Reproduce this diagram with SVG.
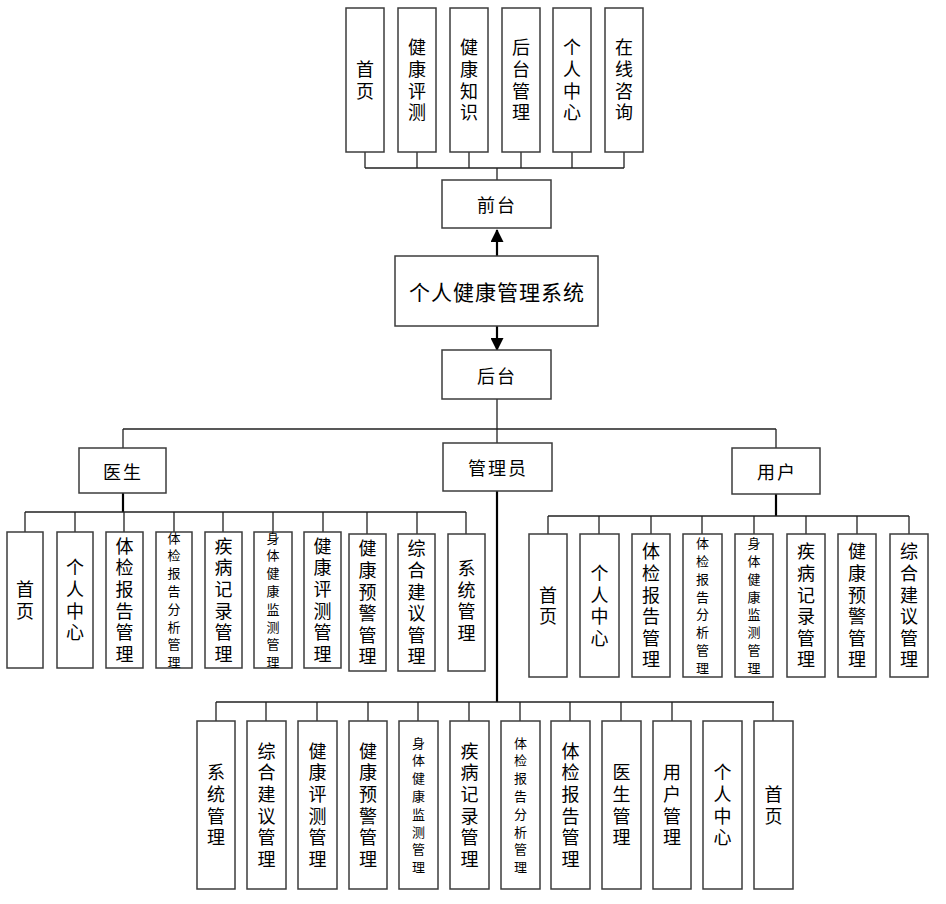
<svg xmlns="http://www.w3.org/2000/svg" width="946" height="904" viewBox="0 0 946 904">
<defs>
<style>
.b{fill:#fff;stroke:#3c3c3c;stroke-width:1.5}
.t{font-family:"Noto Sans CJK SC","Noto Sans",sans-serif;font-size:18px;fill:#000;text-anchor:middle;dominant-baseline:central}
.v{writing-mode:vertical-rl;letter-spacing:3.6px}
.s{font-size:13px;letter-spacing:4.8px}
.h{font-size:18px;letter-spacing:2px}
.m{font-size:21px;letter-spacing:1px}
.c{fill:none;stroke:#222;stroke-width:1.3}
.k{fill:none;stroke:#000;stroke-width:2.2}
</style>
<marker id="ar" viewBox="0 0 13 13" refX="12" refY="6.5" markerWidth="13" markerHeight="13" markerUnits="userSpaceOnUse" orient="auto">
<path d="M0,0 L13,6.5 L0,13 z" fill="#000"/>
</marker>
</defs>
<rect width="946" height="904" fill="#fff"/>

<g id="connectors">
<path class="c" d="M365,152V168M417,152V168M469,152V168M521,152V168M572,152V168M624,152V168M365,168H624M497,168V180"/>
<path class="k" d="M497,256V230" marker-end="url(#ar)"/>
<path class="k" d="M497,326V350" marker-end="url(#ar)"/>
<path class="c" d="M497,399V443M123,429H776M123,429V448M776,429V448"/>
<path class="k" d="M123,493V512"/>
<path class="c" d="M25,512H466M25,512V532M75,512V532M124,512V532M174,512V532M223,512V532M273,512V532M323,512V532M367,512V534M417,512V534M466,512V534"/>
<path class="k" d="M776,494V516"/>
<path class="c" d="M548,516H909M548,516V534M599,516V534M651,516V534M702,516V534M754,516V534M806,516V534M857,516V534M909,516V534"/>
<path class="k" d="M497,491V702"/>
<path class="c" d="M216,702H774M216,702V721M266,702V721M317,702V721M368,702V721M418,702V721M469,702V721M520,702V721M570,702V721M621,702V721M672,702V721M773,702V721"/>
</g>

<g id="f1"><rect class="b" x="346" y="8" width="38" height="144"/><text class="t v" x="365" y="81.8">首页</text></g>
<g id="f2"><rect class="b" x="398" y="8" width="38" height="144"/><text class="t v" x="417" y="81.8">健康评测</text></g>
<g id="f3"><rect class="b" x="450" y="8" width="38" height="144"/><text class="t v" x="469" y="81.8">健康知识</text></g>
<g id="f4"><rect class="b" x="502" y="8" width="38" height="144"/><text class="t v" x="521" y="81.8">后台管理</text></g>
<g id="f5"><rect class="b" x="553" y="8" width="38" height="144"/><text class="t v" x="572" y="81.8">个人中心</text></g>
<g id="f6"><rect class="b" x="605" y="8" width="38" height="144"/><text class="t v" x="624" y="81.8">在线咨询</text></g>

<g id="qiantai"><rect class="b" x="442" y="180" width="109" height="48"/><text class="t h" x="497" y="204">前台</text></g>
<g id="system"><rect class="b" x="395" y="256" width="203" height="70"/><text class="t m" x="497" y="291">个人健康管理系统</text></g>
<g id="houtai"><rect class="b" x="442" y="350" width="109" height="49"/><text class="t h" x="497" y="375">后台</text></g>
<g id="admin"><rect class="b" x="443" y="443" width="109" height="48"/><text class="t h" x="498" y="467">管理员</text></g>
<g id="doctor"><rect class="b" x="79" y="448" width="87" height="45"/><text class="t h" x="123" y="470.5">医生</text></g>
<g id="user"><rect class="b" x="732" y="448" width="88" height="46"/><text class="t h" x="777" y="471">用户</text></g>

<g id="d1"><rect class="b" x="7" y="532" width="36" height="136"/><text class="t v" x="25" y="601.8">首页</text></g>
<g id="d2"><rect class="b" x="57" y="532" width="36" height="136"/><text class="t v" x="75" y="601.8">个人中心</text></g>
<g id="d3"><rect class="b" x="106" y="532" width="37" height="136"/><text class="t v" x="124.5" y="601.8">体检报告管理</text></g>
<g id="d4"><rect class="b" x="156" y="532" width="36" height="136"/><text class="t v s" x="174" y="602.4">体检报告分析管理</text></g>
<g id="d5"><rect class="b" x="205" y="532" width="37" height="136"/><text class="t v" x="223.5" y="601.8">疾病记录管理</text></g>
<g id="d6"><rect class="b" x="254" y="532" width="38" height="136"/><text class="t v s" x="273" y="602.4">身体健康监测管理</text></g>
<g id="d7"><rect class="b" x="304" y="532" width="37" height="136"/><text class="t v" x="322.5" y="601.8">健康评测管理</text></g>
<g id="d8"><rect class="b" x="349" y="534" width="37" height="137"/><text class="t v" x="367.5" y="604.3">健康预警管理</text></g>
<g id="d9"><rect class="b" x="398" y="534" width="37" height="137"/><text class="t v" x="416.5" y="604.3">综合建议管理</text></g>
<g id="d10"><rect class="b" x="448" y="534" width="37" height="137"/><text class="t v" x="466.5" y="602.3">系统管理</text></g>

<g id="u1"><rect class="b" x="529" y="534" width="38" height="143"/><text class="t v" x="548" y="607.3">首页</text></g>
<g id="u2"><rect class="b" x="580" y="534" width="39" height="143"/><text class="t v" x="599.5" y="607.3">个人中心</text></g>
<g id="u3"><rect class="b" x="632" y="534" width="38" height="143"/><text class="t v" x="651" y="607.3">体检报告管理</text></g>
<g id="u4"><rect class="b" x="683" y="534" width="39" height="143"/><text class="t v s" x="702.5" y="607.9">体检报告分析管理</text></g>
<g id="u5"><rect class="b" x="735" y="534" width="38" height="143"/><text class="t v s" x="754" y="607.9">身体健康监测管理</text></g>
<g id="u6"><rect class="b" x="787" y="534" width="38" height="143"/><text class="t v" x="806" y="607.3">疾病记录管理</text></g>
<g id="u7"><rect class="b" x="838" y="534" width="38" height="143"/><text class="t v" x="857" y="607.3">健康预警管理</text></g>
<g id="u8"><rect class="b" x="890" y="534" width="38" height="143"/><text class="t v" x="909" y="607.3">综合建议管理</text></g>

<g id="a1"><rect class="b" x="197" y="721" width="38" height="168"/><text class="t v" x="216" y="806.8">系统管理</text></g>
<g id="a2"><rect class="b" x="247" y="721" width="39" height="168"/><text class="t v" x="266.5" y="806.8">综合建议管理</text></g>
<g id="a3"><rect class="b" x="298" y="721" width="39" height="168"/><text class="t v" x="317.5" y="806.8">健康评测管理</text></g>
<g id="a4"><rect class="b" x="349" y="721" width="38" height="168"/><text class="t v" x="368" y="806.8">健康预警管理</text></g>
<g id="a5"><rect class="b" x="399" y="721" width="39" height="168"/><text class="t v s" x="418.5" y="807.4">身体健康监测管理</text></g>
<g id="a6"><rect class="b" x="450" y="721" width="39" height="168"/><text class="t v" x="469.5" y="806.8">疾病记录管理</text></g>
<g id="a7"><rect class="b" x="501" y="721" width="39" height="168"/><text class="t v s" x="520.5" y="807.4">体检报告分析管理</text></g>
<g id="a8"><rect class="b" x="551" y="721" width="39" height="168"/><text class="t v" x="570.5" y="806.8">体检报告管理</text></g>
<g id="a9"><rect class="b" x="602" y="721" width="39" height="168"/><text class="t v" x="621.5" y="806.8">医生管理</text></g>
<g id="a10"><rect class="b" x="653" y="721" width="38" height="168"/><text class="t v" x="672" y="806.8">用户管理</text></g>
<g id="a11"><rect class="b" x="703" y="721" width="39" height="168"/><text class="t v" x="722.5" y="806.8">个人中心</text></g>
<g id="a12"><rect class="b" x="754" y="721" width="39" height="168"/><text class="t v" x="773.5" y="806.8">首页</text></g>
</svg>
